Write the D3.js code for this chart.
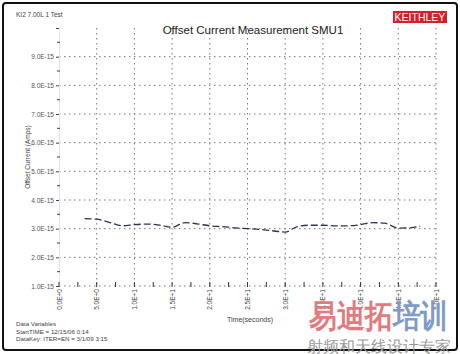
<!doctype html>
<html lang="en">
<head>
<meta charset="utf-8">
<title>Offset Current Measurement SMU1</title>
<script src="https://cdnjs.cloudflare.com/ajax/libs/d3/7.8.5/d3.min.js"></script>
<style>
  body { margin: 0; background: #fff; }
  text { font-family: "Liberation Sans", Arial, sans-serif; }
</style>
</head>
<body>
<svg id="svg" width="460" height="354"></svg>
<script>
// time (s) and offset current (A)
var times = [3.4, 5, 6.8, 8.4, 10, 11.7, 13.4, 15, 16.7, 18.3, 20, 21.6, 23.3, 25, 26.7,
             28.2, 30, 31.6, 33.3, 35, 36.6, 38.3, 40, 41.6, 43.2, 45, 46.6, 47.9];
var currents = [3.35, 3.33, 3.21, 3.10, 3.14, 3.16, 3.12, 3.05, 3.21, 3.17, 3.10, 3.07, 3.03, 3.00, 2.97,
                2.93, 2.88, 3.07, 3.12, 3.12, 3.10, 3.10, 3.14, 3.21, 3.19, 3.02, 3.03, 3.09].map(function(v) { return v * 1e-15; });

var xTicks = [0, 5, 10, 15, 20, 25, 30, 35, 40, 45, 50];
var xTickLabels = ['0.0E+0', '5.0E+0', '1.0E+1', '1.5E+1', '2.0E+1', '2.5E+1', '3.0E+1', '3.5E+1', '4.0E+1', '4.5E+1', '5.0E+1'];
var yTicks = [1e-15, 2e-15, 3e-15, 4e-15, 5e-15, 6e-15, 7e-15, 8e-15, 9e-15, 1e-14];
var yTickLabels = ['1.0E-15', '2.0E-15', '3.0E-15', '4.0E-15', '5.0E-15', '6.0E-15', '7.0E-15', '8.0E-15', '9.0E-15', ''];
var footerLines = ['Data Variables', 'StartTIME = 12/15/06 0:14', 'DataKey: ITER=EN = 3/1/09 3:15'];

var svg = d3.select('#svg');

var x = d3.scaleLinear().domain([0, 50]).range([59, 436]);
var y = d3.scaleLinear().domain([1e-15, 1e-14]).range([286, 28]);

// outer frame
svg.append('rect')
  .attr('x', 3).attr('y', 3).attr('width', 454).attr('height', 347)
  .attr('rx', 3)
  .attr('fill', '#fff').attr('stroke', '#111').attr('stroke-width', 2);

// grid
svg.selectAll('.hgrid')
  .data(yTicks.slice(0, -1))
  .enter()
  .append('line')
  .attr('class', 'hgrid')
  .attr('x1', x(0)).attr('x2', x(50))
  .attr('y1', function(d) { return y(d); })
  .attr('y2', function(d) { return y(d); })
  .attr('stroke', '#777').attr('stroke-dasharray', '1.5,3.5');

svg.selectAll('.vgrid')
  .data(xTicks.slice(1))
  .enter()
  .append('line')
  .attr('class', 'vgrid')
  .attr('x1', function(d) { return x(d); })
  .attr('x2', function(d) { return x(d); })
  .attr('y1', y(1e-14)).attr('y2', y(1e-15))
  .attr('stroke', '#777').attr('stroke-dasharray', '1.5,3.5');

// y axis
var yAxis = d3.axisLeft(y)
  .tickValues(yTicks)
  .tickSize(3)
  .tickPadding(2)
  .tickFormat(function(d, i) { return yTickLabels[i]; });

var gy = svg.append('g').attr('transform', 'translate(59,0)').call(yAxis);
gy.select('.domain').attr('stroke', '#dde4f0');
gy.selectAll('.tick line').attr('stroke', '#444');
gy.selectAll('text').attr('font-size', 6.5).attr('fill', '#555').attr('font-family', 'Liberation Sans, Arial');

// minor y ticks
svg.selectAll('.ymin')
  .data(d3.range(1.5e-15, 1e-14, 1e-15))
  .enter()
  .append('line')
  .attr('x1', 57).attr('x2', 60)
  .attr('y1', function(d) { return y(d); })
  .attr('y2', function(d) { return y(d); })
  .attr('stroke', '#444');

// x axis
var xAxis = d3.axisBottom(x)
  .tickValues(xTicks)
  .tickSize(0)
  .tickFormat(function(d, i) { return xTickLabels[i]; });

var gx = svg.append('g').attr('transform', 'translate(0,286)').call(xAxis);
gx.select('.domain').remove();
gx.selectAll('text')
  .attr('font-size', 6.5).attr('fill', '#444')
  .attr('transform', 'rotate(-90)')
  .attr('text-anchor', 'end')
  .attr('dx', '-3').attr('dy', '0.32em').attr('x', 0).attr('y', 0);

// major + minor x ticks
svg.selectAll('.xmaj')
  .data(xTicks)
  .enter()
  .append('line')
  .attr('x1', function(d) { return x(d); })
  .attr('x2', function(d) { return x(d); })
  .attr('y1', 282).attr('y2', 287)
  .attr('stroke', '#333');

svg.selectAll('.xmin')
  .data(d3.range(2.5, 50, 5))
  .enter()
  .append('line')
  .attr('x1', function(d) { return x(d); })
  .attr('x2', function(d) { return x(d); })
  .attr('y1', 282).attr('y2', 287)
  .attr('stroke', '#333');

// data line
var line = d3.line()
  .x(function(d, i) { return x(times[i]); })
  .y(function(d) { return y(d); })
  .curve(d3.curveMonotoneX);

svg.append('path')
  .datum(currents)
  .attr('d', line)
  .attr('fill', 'none')
  .attr('stroke', '#2c3350')
  .attr('stroke-width', 1.3)
  .attr('stroke-dasharray', '7,3');

// title and labels
svg.append('text')
  .attr('x', 253).attr('y', 34)
  .attr('text-anchor', 'middle')
  .attr('font-size', 11.5)
  .attr('fill', '#222')
  .text('Offset Current Measurement SMU1');

svg.append('text')
  .attr('x', 16).attr('y', 17)
  .attr('font-size', 6.5).attr('fill', '#444')
  .text('KI2 7.00L 1 Test');

var logo = svg.append('g').attr('transform', 'translate(393,11)');
logo.append('rect')
  .attr('width', 54).attr('height', 12)
  .attr('fill', '#d4202c');
logo.append('text')
  .attr('x', 27).attr('y', 10)
  .attr('text-anchor', 'middle')
  .attr('font-size', 10.5).attr('fill', '#fff')
  .attr('font-family', 'Liberation Serif, serif')
  .text('KEITHLEY');

svg.append('text')
  .attr('transform', 'translate(30,157) rotate(-90)')
  .attr('text-anchor', 'middle')
  .attr('font-size', 6.5).attr('fill', '#444')
  .text('Offset Current (Amps)');

svg.append('text')
  .attr('x', 250).attr('y', 322)
  .attr('text-anchor', 'middle')
  .attr('font-size', 7).attr('fill', '#444')
  .text('Time(seconds)');

svg.selectAll('.footer')
  .data(footerLines)
  .enter()
  .append('text')
  .attr('x', 16)
  .attr('y', function(d, i) { return 326 + i * 7.5; })
  .attr('font-size', 6.2).attr('fill', '#444')
  .text(function(d) { return d; });

// watermark
var wm = svg.append('text')
  .attr('transform', 'translate(309,327) scale(1,1.15)')
  .attr('font-size', 28).attr('font-weight', 'bold')
  .attr('font-family', 'Noto Sans CJK SC, sans-serif');
wm.append('tspan').attr('fill', '#e07c80').text('易迪拓');
wm.append('tspan').attr('fill', '#7f9bc7').text('培训');

svg.append('text')
  .attr('x', 307).attr('y', 352)
  .attr('font-size', 16)
  .attr('font-family', 'Noto Sans CJK SC, sans-serif')
  .attr('fill', '#9a9a9a')
  .text('射频和天线设计专家');
</script>
</body>
</html>
